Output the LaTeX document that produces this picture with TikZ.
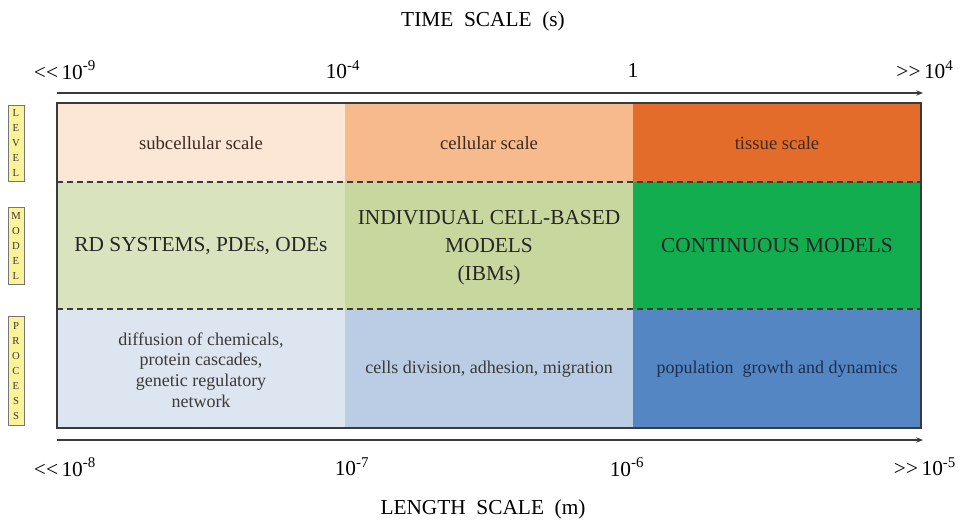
\documentclass[tikz,border=0pt]{standalone}
\usepackage{fontspec}
\setmainfont{Liberation Serif}
\usepackage{tikz}
\usetikzlibrary{arrows.meta}

\definecolor{lvlA}{HTML}{FCE6D6}
\definecolor{lvlB}{HTML}{F7BA8C}
\definecolor{lvlC}{HTML}{E36C2A}
\definecolor{mdlA}{HTML}{D9E4BE}
\definecolor{mdlB}{HTML}{C7D79E}
\definecolor{mdlC}{HTML}{12AD4E}
\definecolor{prcA}{HTML}{DDE5F0}
\definecolor{prcB}{HTML}{BACDE4}
\definecolor{prcC}{HTML}{5586C4}
\definecolor{tagfill}{HTML}{FBF39A}
\definecolor{ink}{HTML}{3A3A3A}
\definecolor{brown}{HTML}{3E2A1E}
\definecolor{navy}{HTML}{1C2E4E}

\begin{document}
\begin{tikzpicture}[x=0.75pt,y=-0.75pt,>={Stealth[length=5pt,width=4pt]}]
\tikzstyle{every node}=[inner sep=0pt,align=center];
\tikzstyle{tick}=[font=\fontsize{16}{18}\selectfont,text=black];
\tikzstyle{axtitle}=[font=\fontsize{16}{18}\selectfont,text=black];
\tikzstyle{tag}=[draw=ink!70,fill=tagfill,line width=0.6pt,minimum width=12pt,
  font=\fontsize{8}{11.3}\selectfont,text=ink];
\useasboundingbox (0,0) rectangle (966,525);
% cells
    \fill[lvlA] (57,103) rectangle (345,182);
    \fill[lvlB] (345,103) rectangle (633,182);
    \fill[lvlC] (633,103) rectangle (921,182);
    \fill[mdlA] (57,182) rectangle (345,309);
    \fill[mdlB] (345,182) rectangle (633,309);
    \fill[mdlC] (633,182) rectangle (921,309);
    \fill[prcA] (57,309) rectangle (345,428);
    \fill[prcB] (345,309) rectangle (633,428);
    \fill[prcC] (633,309) rectangle (921,428);
    \draw[ink,line width=0.9pt,dash pattern=on 4.5pt off 3pt] (57,182) -- (921,182);
    \draw[ink,line width=0.9pt,dash pattern=on 4.5pt off 3pt] (57,309) -- (921,309);
    \draw[ink,line width=1.2pt] (57,103) rectangle (921,428);
% texts
    \node[font=\fontsize{14}{16}\selectfont,text=brown] (sub) at (201,143) {subcellular scale};
    \node[font=\fontsize{14}{16}\selectfont,text=brown] (cel) at (489,143) {cellular scale};
    \node[font=\fontsize{14}{16}\selectfont,text=brown] (tis) at (777,143) {tissue scale};
    \node[font=\fontsize{16}{21}\selectfont,text=black!85] (rd) at (201,246) {RD SYSTEMS, PDEs, ODEs};
    \node[font=\fontsize{16}{21}\selectfont,text=black!85] (ibm) at (489,248)
      {INDIVIDUAL CELL-BASED\\MODELS\\(IBMs)};
    \node[font=\fontsize{16}{21}\selectfont,text=black!85] (cont) at (777,246) {CONTINUOUS MODELS};
    \node[font=\fontsize{13.5}{15.6}\selectfont,text=ink] (diff) at (201,370)
      {diffusion of chemicals,\\protein cascades,\\genetic regulatory\\network};
    \node[font=\fontsize{13.5}{14.3}\selectfont,text=ink] (cdiv) at (489,369)
      {cells division, adhesion, migration};
    \node[font=\fontsize{13.5}{14.3}\selectfont,text=navy] (pop) at (777,369)
      {population\ \ growth and dynamics};
% side tags
    \node[tag,minimum height=57pt] (level) at (16,143) {L\\E\\V\\E\\L};
    \node[tag,minimum height=58pt] (model) at (16,246) {M\\O\\D\\E\\L};
    \node[tag,minimum height=82pt] (process) at (16,371) {P\\R\\O\\C\\E\\S\\S};
% time axis
    \coordinate (t0) at (57,93);
    \coordinate (t1) at (923,93);
    \draw[->,ink,line width=1.2pt] (t0) -- (t1);
    \node[axtitle] (time) at (483,21) {TIME\ \ SCALE\ \ (s)};
    \node[tick] (ta) at (65,70) {<\kern0pt<\,10\textsuperscript{-9}};
    \node[tick] (tb) at (343,70) {10\textsuperscript{-4}};
    \node[tick] (tc) at (633,70) {1};
    \node[tick] (td) at (925,70) {>\kern0pt>\,10\textsuperscript{4}};
% length axis
    \coordinate (l0) at (57,440);
    \coordinate (l1) at (923,440);
    \draw[->,ink,line width=1.2pt] (l0) -- (l1);
    \node[axtitle] (length) at (483,509) {LENGTH\ \ SCALE\ \ (m)};
    \node[tick] (la) at (65,467) {<\kern0pt<\,10\textsuperscript{-8}};
    \node[tick] (lb) at (352,467) {10\textsuperscript{-7}};
    \node[tick] (lc) at (627,467) {10\textsuperscript{-6}};
    \node[tick] (ld) at (925,467) {>\kern0pt>\,10\textsuperscript{-5}};
\end{tikzpicture}
\end{document}
